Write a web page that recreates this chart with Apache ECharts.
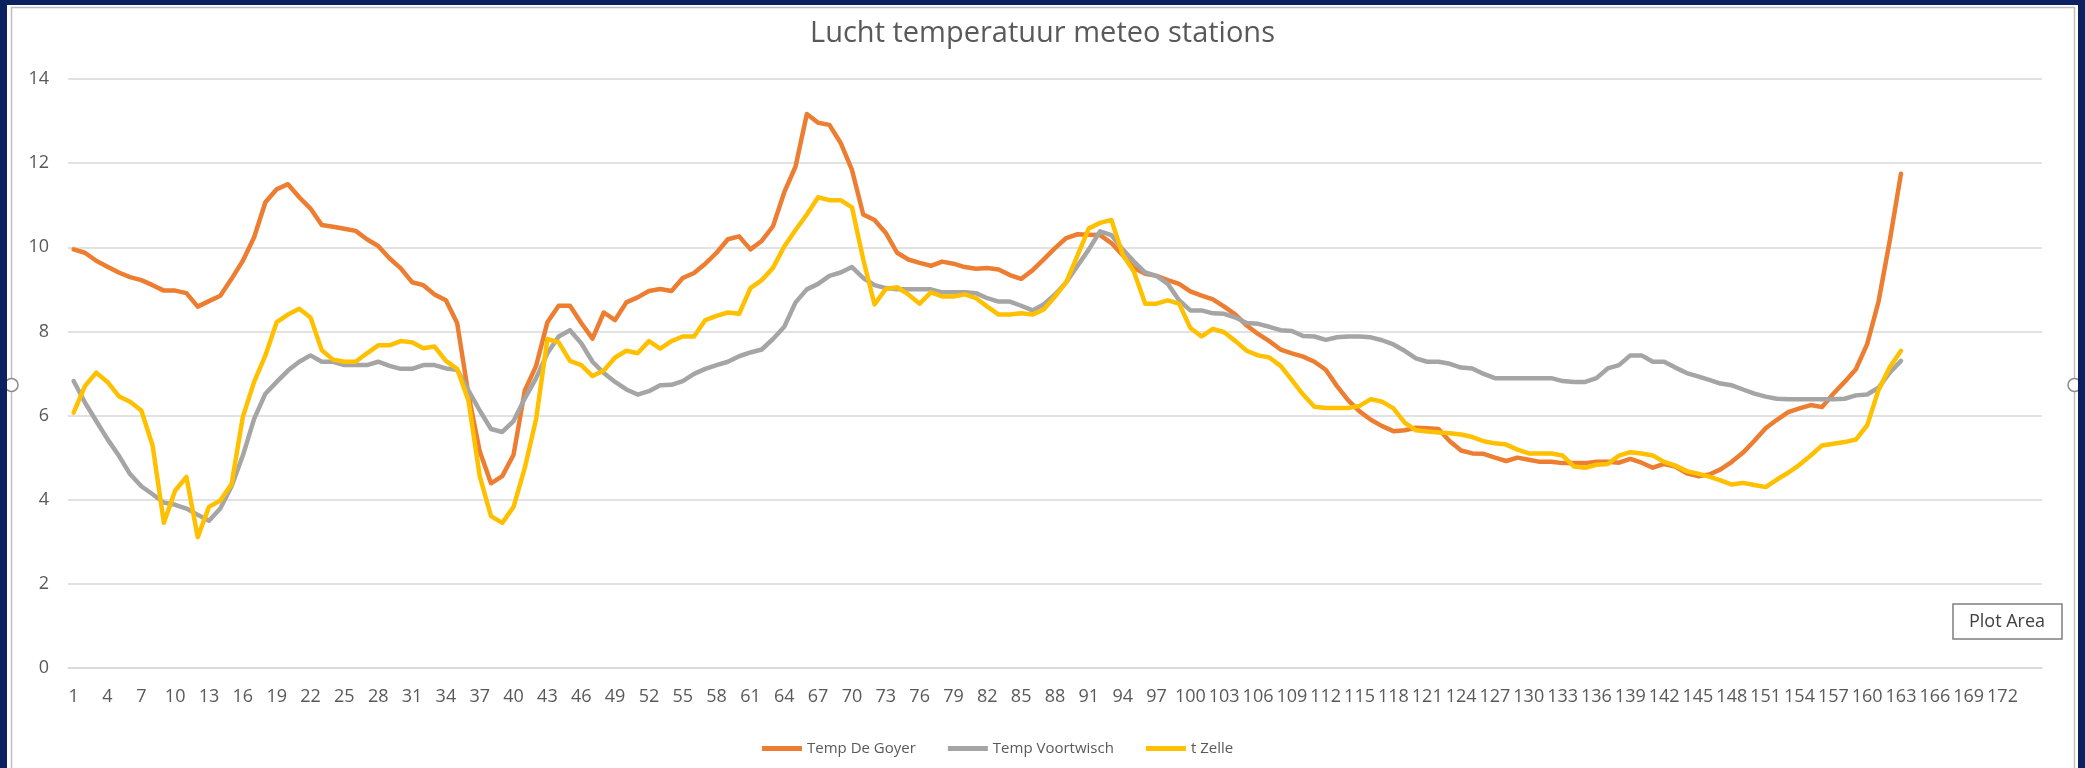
<!DOCTYPE html>
<html>
<head>
<meta charset="utf-8">
<script src="https://cdn.jsdelivr.net/npm/echarts@6/dist/echarts.min.js"></script>
<style>
html,body{margin:0;padding:0;background:#0c2160;}
#chart{width:2085px;height:768px;}
</style>
</head>
<body>
<div id="chart"></div>
<script>
var titleText = 'Lucht temperatuur meteo stations';
var seriesNames = ['Temp De Goyer', 'Temp Voortwisch', 't Zelle'];
var categoryCount = 175;
var categories = [];
for (var i = 1; i <= categoryCount; i++) categories.push(String(i));

var deGoyer = [
9.95,9.87,9.68,9.54,9.40,9.29,9.22,9.10,8.97,8.97,
8.91,8.59,8.72,8.85,9.25,9.68,10.24,11.07,11.38,11.50,
11.19,10.92,10.53,10.49,10.44,10.39,10.19,10.03,9.74,9.50,
9.17,9.10,8.88,8.74,8.20,6.50,5.15,4.39,4.56,5.07,
6.60,7.18,8.22,8.61,8.61,8.20,7.83,8.45,8.27,8.69,
8.81,8.96,9.01,8.96,9.27,9.39,9.61,9.87,10.19,10.26,
9.95,10.15,10.50,11.31,11.92,13.17,12.96,12.91,12.48,11.84,
10.78,10.65,10.34,9.87,9.71,9.63,9.56,9.66,9.61,9.53,
9.49,9.51,9.47,9.34,9.25,9.45,9.71,9.98,10.22,10.31,
10.30,10.29,10.10,9.81,9.51,9.37,9.32,9.22,9.13,8.95,
8.85,8.76,8.59,8.40,8.14,7.94,7.77,7.57,7.48,7.40,
7.28,7.09,6.70,6.36,6.10,5.90,5.75,5.63,5.65,5.71,
5.70,5.68,5.39,5.17,5.10,5.09,5.00,4.92,5.00,4.95,
4.90,4.90,4.87,4.87,4.87,4.90,4.90,4.88,4.97,4.88,
4.76,4.85,4.79,4.63,4.56,4.60,4.72,4.90,5.12,5.40,
5.70,5.90,6.08,6.17,6.25,6.20,6.52,6.80,7.10,7.70,
8.70,10.15,11.75
];

var voortwisch = [
6.82,6.31,5.87,5.44,5.05,4.61,4.32,4.13,3.93,3.88,
3.79,3.64,3.50,3.79,4.32,5.05,5.92,6.52,6.80,7.07,
7.28,7.43,7.28,7.28,7.20,7.20,7.20,7.28,7.18,7.11,
7.11,7.20,7.20,7.12,7.09,6.60,6.12,5.68,5.61,5.87,
6.41,6.89,7.48,7.88,8.03,7.72,7.28,7.01,6.80,6.62,
6.50,6.58,6.72,6.73,6.82,6.99,7.11,7.20,7.28,7.41,
7.50,7.57,7.82,8.11,8.69,9.00,9.13,9.32,9.40,9.53,
9.27,9.10,9.03,9.00,9.00,9.00,9.00,8.93,8.93,8.93,
8.91,8.79,8.71,8.71,8.61,8.50,8.64,8.88,9.17,9.56,
9.95,10.38,10.29,9.95,9.66,9.40,9.32,9.13,8.74,8.50,
8.50,8.43,8.42,8.33,8.20,8.18,8.11,8.03,8.01,7.89,
7.88,7.80,7.86,7.88,7.88,7.86,7.79,7.69,7.54,7.36,
7.28,7.28,7.23,7.14,7.12,6.99,6.89,6.89,6.89,6.89,
6.89,6.89,6.82,6.80,6.80,6.89,7.12,7.20,7.43,7.43,
7.28,7.28,7.14,7.01,6.93,6.85,6.76,6.72,6.62,6.52,
6.45,6.40,6.39,6.39,6.39,6.39,6.39,6.40,6.48,6.50,
6.66,7.02,7.30
];

var zelle = [
6.07,6.70,7.02,6.80,6.46,6.33,6.12,5.29,3.45,4.22,
4.54,3.11,3.83,3.98,4.37,5.97,6.80,7.43,8.22,8.40,
8.54,8.33,7.55,7.33,7.28,7.28,7.48,7.67,7.67,7.77,
7.74,7.60,7.64,7.30,7.11,6.36,4.56,3.61,3.45,3.83,
4.76,5.92,7.82,7.74,7.30,7.20,6.94,7.07,7.38,7.54,
7.48,7.77,7.59,7.77,7.88,7.88,8.27,8.37,8.45,8.42,
9.03,9.22,9.51,10.02,10.41,10.78,11.19,11.12,11.12,10.95,
9.71,8.64,9.01,9.05,8.88,8.66,8.93,8.83,8.83,8.88,
8.79,8.59,8.40,8.40,8.43,8.40,8.52,8.83,9.17,9.81,
10.45,10.58,10.65,9.83,9.42,8.66,8.66,8.74,8.66,8.08,
7.88,8.06,7.98,7.77,7.54,7.43,7.38,7.18,6.84,6.50,
6.21,6.18,6.18,6.18,6.23,6.39,6.33,6.17,5.83,5.65,
5.62,5.60,5.58,5.55,5.49,5.39,5.34,5.31,5.19,5.10,
5.10,5.10,5.05,4.79,4.76,4.83,4.85,5.05,5.13,5.10,
5.05,4.90,4.81,4.68,4.62,4.55,4.46,4.36,4.40,4.35,
4.30,4.48,4.64,4.83,5.05,5.29,5.33,5.37,5.43,5.77,
6.60,7.15,7.54
];

var yMin = 0, yMax = 14, yStep = 2;
var colors = ['#ED7D31', '#A5A5A5', '#FFC000'];
var FONT = '"Open Sans", "Noto Sans", sans-serif';

var chart = echarts.init(document.getElementById('chart'));

function lineSeries(name, data, color) {
  return {
    name: name,
    type: 'line',
    data: data,
    symbol: 'none',
    smooth: false,
    lineStyle: { color: color, width: 4.5, cap: 'round', join: 'round' },
    itemStyle: { color: color },
    emphasis: { disabled: true },
    z: 2
  };
}

chart.setOption({
  backgroundColor: '#0c2160',
  animation: false,
  color: colors,
  title: {
    text: titleText,
    left: 'center',
    top: 14,
    textStyle: { fontFamily: FONT, fontSize: 29, fontWeight: 'normal', color: '#595959' }
  },
  legend: {
    data: seriesNames,
    left: 757,
    top: 736,
    icon: 'rect',
    itemWidth: 40,
    itemHeight: 5,
    itemGap: 32,
    textStyle: { fontFamily: FONT, fontSize: 15, color: '#595959' }
  },
  grid: { left: 68, right: 43, top: 79, bottom: 100, containLabel: false },
  xAxis: {
    type: 'category',
    data: categories,
    boundaryGap: true,
    axisLine: { show: true, lineStyle: { color: '#d9d9d9', width: 1.5 } },
    axisTick: { show: false },
    axisLabel: {
      interval: function (index) { return index % 3 === 0 && index < 172; },
      margin: 20,
      fontFamily: FONT,
      fontSize: 18,
      color: '#595959'
    },
    splitLine: { show: false }
  },
  yAxis: {
    type: 'value',
    min: yMin,
    max: yMax,
    interval: yStep,
    axisLine: { show: false },
    axisTick: { show: false },
    axisLabel: { margin: 19, fontFamily: FONT, fontSize: 18, color: '#595959' },
    splitLine: { lineStyle: { color: '#d9d9d9', width: 1.5 } }
  },
  series: [
    lineSeries(seriesNames[0], deGoyer, colors[0]),
    lineSeries(seriesNames[1], voortwisch, colors[1]),
    lineSeries(seriesNames[2], zelle, colors[2])
  ],
  graphic: [
    { type: 'rect', z: -10, silent: true, shape: { x: 7, y: 5, width: 2071, height: 770 }, style: { fill: '#ffffff' } },
    { type: 'rect', z: -9, silent: true, shape: { x: 11.5, y: 7.5, width: 2063, height: 770 }, style: { fill: 'none', stroke: '#bfbfbf', lineWidth: 1.5 } },
    { type: 'circle', z: 50, silent: true, shape: { cx: 11.5, cy: 385, r: 6.5 }, style: { fill: '#ffffff', stroke: '#8c8c8c', lineWidth: 1.5 } },
    { type: 'circle', z: 50, silent: true, shape: { cx: 2074.5, cy: 385, r: 6.5 }, style: { fill: '#ffffff', stroke: '#8c8c8c', lineWidth: 1.5 } },
    { type: 'rect', z: 60, silent: true, shape: { x: 0, y: 0, width: 7, height: 768 }, style: { fill: '#0c2160' } },
    { type: 'rect', z: 60, silent: true, shape: { x: 2078, y: 0, width: 7, height: 768 }, style: { fill: '#0c2160' } },
    { type: 'rect', z: 60, silent: true, shape: { x: 0, y: 0, width: 2085, height: 5 }, style: { fill: '#0c2160' } },
    { type: 'rect', z: 70, silent: true, shape: { x: 1953, y: 604, width: 109, height: 35 }, style: { fill: '#ffffff', stroke: '#7f7f7f', lineWidth: 1.5 } },
    { type: 'text', z: 71, silent: true, x: 2007, y: 622, style: { text: 'Plot Area', fontFamily: FONT, fontSize: 18, fill: '#404040', align: 'center', verticalAlign: 'middle' } }
  ]
});
</script>
</body>
</html>
